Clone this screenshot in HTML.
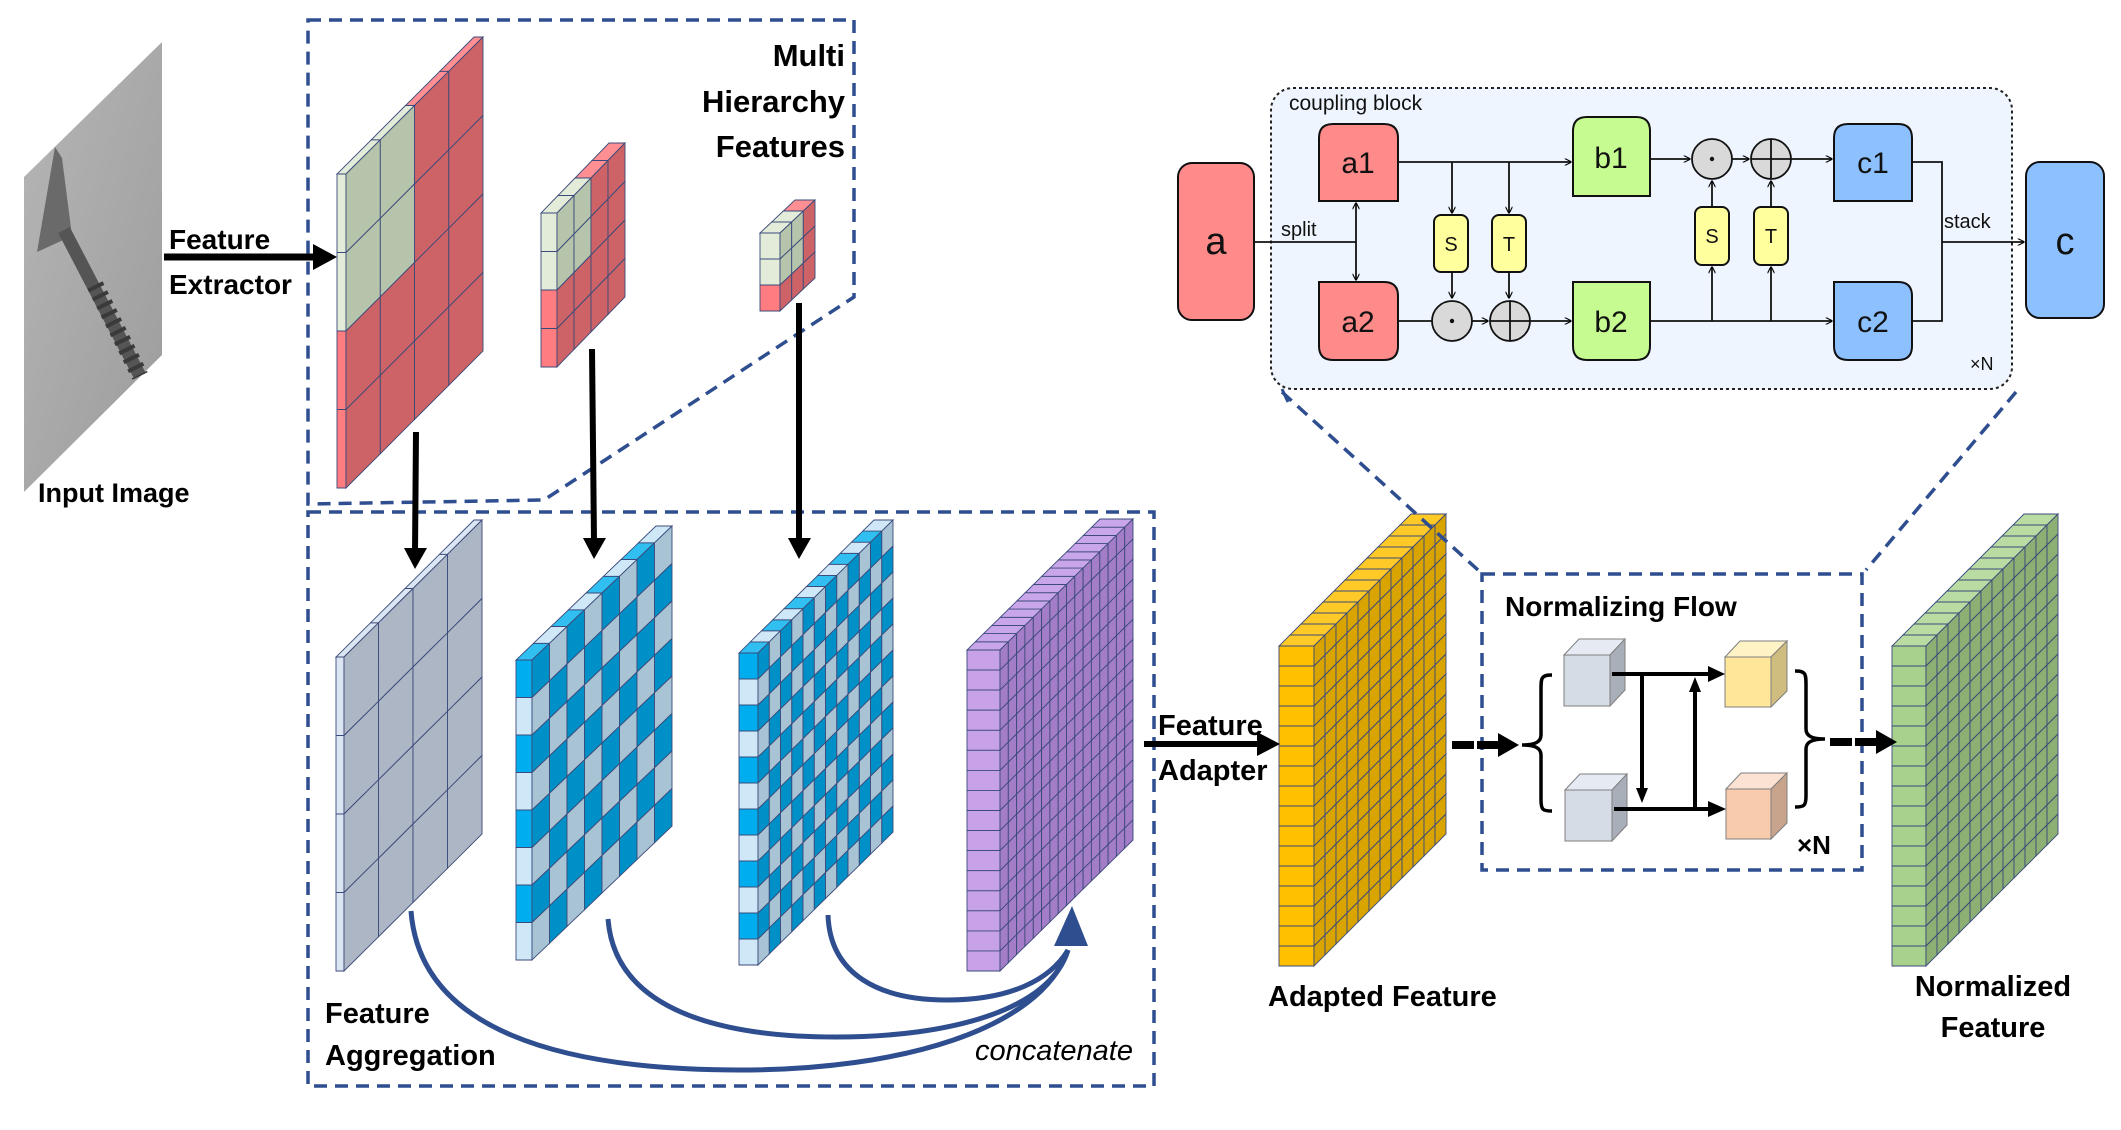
<!DOCTYPE html>
<html><head><meta charset="utf-8">
<style>
html,body{margin:0;padding:0;background:#fff;}
svg{display:block;}
text{font-family:"Liberation Sans",sans-serif;}
.b{font-weight:bold;fill:#000;}
</style></head>
<body>
<svg id="s" xmlns="http://www.w3.org/2000/svg" width="2121" height="1130" viewBox="0 0 2121 1130">
<defs>
<linearGradient id="ig" x1="0" y1="0" x2="1" y2="1">
<stop offset="0" stop-color="#b6b6b6"/><stop offset="1" stop-color="#9c9c9c"/>
</linearGradient>
<marker id="ah" viewBox="0 0 10 10" refX="9" refY="5" markerWidth="7" markerHeight="7" orient="auto-start-reverse" markerUnits="userSpaceOnUse"><path d="M0,0 L10,5 L0,10" fill="none" stroke="#000" stroke-width="1.6"/></marker>
</defs>

<!-- input image -->
<polygon points="24,177 162,42 162,355 24,492" fill="url(#ig)"/>
<polygon points="55,147 62,158 72,236 37,252" fill="#6a6a6a"/>
<line x1="64" y1="230" x2="140" y2="376" stroke="#555" stroke-width="13"/>
<line x1="95" y1="285" x2="140" y2="376" stroke="#3a3a3a" stroke-width="17" stroke-dasharray="4 6"/>
<text class="b" x="38" y="502" font-size="27">Input Image</text>

<!-- feature extractor arrow -->
<line x1="164" y1="257" x2="318" y2="257" stroke="#000" stroke-width="7"/>
<polygon points="313,244 337,257 313,270" fill="#000"/>
<text class="b" x="169" y="249" font-size="28">Feature</text>
<text class="b" x="169" y="294" font-size="28">Extractor</text>

<!-- dashed boxes -->
<path d="M308,20 L854,20 L854,297 L544,500 L308,504 Z" fill="none" stroke="#2f4e8f" stroke-width="3.5" stroke-dasharray="13 8"/>
<rect x="308" y="512" width="846" height="574" fill="none" stroke="#2f4e8f" stroke-width="3.5" stroke-dasharray="13 8"/>
<text class="b" x="845" y="66" font-size="31" text-anchor="end">Multi</text>
<text class="b" x="845" y="112" font-size="31" text-anchor="end">Hierarchy</text>
<text class="b" x="845" y="157" font-size="31" text-anchor="end">Features</text>

<g id="panels"></g>

<!-- down arrows -->
<g stroke="#000" stroke-width="6">
<line x1="416" y1="432" x2="415" y2="552"/>
<line x1="592" y1="349" x2="594" y2="541"/>
<line x1="799" y1="303" x2="799" y2="541"/>
</g>
<polygon points="404,548 427,548 415,569" fill="#000"/>
<polygon points="583,538 606,538 594,559" fill="#000"/>
<polygon points="788,538 811,538 799,559" fill="#000"/>

<!-- concat curves -->
<g fill="none" stroke="#2f4e8f" stroke-width="5">
<path d="M411,911 C420,1030 560,1070 740,1070 C900,1070 1040,1030 1068,950"/>
<path d="M608,919 C615,1010 720,1037 836,1037 C950,1037 1050,1010 1068,950"/>
<path d="M828,915 C830,975 880,1000 947,1000 C1010,1000 1050,980 1068,950"/>
</g>
<polygon points="1072,906 1054,946 1088,946" fill="#2f4e8f"/>
<text class="b" x="325" y="1023" font-size="29">Feature</text>
<text class="b" x="325" y="1065" font-size="29">Aggregation</text>
<text x="1133" y="1060" font-size="29" font-style="italic" text-anchor="end" fill="#000">concatenate</text>

<!-- feature adapter -->
<line x1="1144" y1="744" x2="1262" y2="744" stroke="#000" stroke-width="6"/>
<polygon points="1257,732 1280,744 1257,756" fill="#000"/>
<text class="b" x="1158" y="735" font-size="29">Feature</text>
<text class="b" x="1158" y="780" font-size="29">Adapter</text>
<text class="b" x="1268" y="1006" font-size="29">Adapted Feature</text>
<text class="b" x="1993" y="996" font-size="29" text-anchor="middle">Normalized</text>
<text class="b" x="1993" y="1037" font-size="29" text-anchor="middle">Feature</text>

<!-- NF box -->
<rect x="1482" y="574" width="380" height="296" fill="none" stroke="#2f4e8f" stroke-width="3.5" stroke-dasharray="13 8"/>
<line x1="1282" y1="392" x2="1478" y2="570" stroke="#2f4e8f" stroke-width="3.5" stroke-dasharray="13 8"/>
<line x1="2016" y1="392" x2="1866" y2="570" stroke="#2f4e8f" stroke-width="3.5" stroke-dasharray="13 8"/>
<text class="b" x="1505" y="616" font-size="28">Normalizing Flow</text>
<text class="b" x="1797" y="854" font-size="26">×N</text>
<!-- cubes -->
<g stroke="#7f7f7f" stroke-width="1">
<polygon points="1564,655 1579,639 1625,639 1610,655" fill="#e6ebf3"/>
<polygon points="1610,655 1625,639 1625,690 1610,706" fill="#a9afb9"/>
<rect x="1564" y="655" width="46" height="51" fill="#d6dce5"/>
<polygon points="1565,790 1580,774 1627,774 1612,790" fill="#e6ebf3"/>
<polygon points="1612,790 1627,774 1627,825 1612,841" fill="#a9afb9"/>
<rect x="1565" y="790" width="47" height="51" fill="#d6dce5"/>
<polygon points="1725,657 1740,641 1787,641 1771,657" fill="#fff2c4"/>
<polygon points="1771,657 1787,641 1787,691 1771,707" fill="#cfbd80"/>
<rect x="1725" y="657" width="46" height="50" fill="#ffe699"/>
<polygon points="1726,789 1741,773 1787,773 1771,789" fill="#fbe2d2"/>
<polygon points="1771,789 1787,773 1787,823 1771,839" fill="#c8a48c"/>
<rect x="1726" y="789" width="45" height="50" fill="#f8cbad"/>
</g>
<g stroke="#000" stroke-width="4">
<line x1="1612" y1="674" x2="1710" y2="674"/>
<line x1="1614" y1="809" x2="1710" y2="809"/>
<line x1="1642" y1="674" x2="1642" y2="790"/>
<line x1="1695" y1="808" x2="1695" y2="690"/>
</g>
<polygon points="1708,666 1725,674 1708,682" fill="#000"/>
<polygon points="1708,801 1726,809 1708,817" fill="#000"/>
<polygon points="1636,788 1648,788 1642,803" fill="#000"/>
<polygon points="1689,692 1701,692 1695,677" fill="#000"/>
<path d="M1552,675 C1541,675 1541,678 1541,690 L1541,735 C1541,742 1535,745 1522,745 C1535,745 1541,748 1541,755 L1541,800 C1541,810 1543,811 1552,811" fill="none" stroke="#000" stroke-width="3.5"/>
<path d="M1795,671 C1806,671 1806,674 1806,686 L1806,729 C1806,736 1812,739 1825,739 C1812,739 1806,742 1806,749 L1806,796 C1806,806 1804,807 1795,807" fill="none" stroke="#000" stroke-width="3.5"/>
<line x1="1452" y1="745" x2="1502" y2="745" stroke="#000" stroke-width="8" stroke-dasharray="22 3"/>
<polygon points="1498,733 1519,745 1498,757" fill="#000"/>
<line x1="1830" y1="742" x2="1880" y2="742" stroke="#000" stroke-width="8" stroke-dasharray="22 3"/>
<polygon points="1876,730 1897,742 1876,754" fill="#000"/>

<!-- coupling block -->
<rect x="1271" y="88" width="741" height="301" rx="22" fill="#eef5fe" stroke="#222" stroke-width="2" stroke-dasharray="3 3"/>
<line x1="1282" y1="389" x2="1288" y2="402" stroke="#2f4e8f" stroke-width="3"/>
<text x="1289" y="110" font-size="21" fill="#111">coupling block</text>
<text x="1970" y="370" font-size="18" fill="#111">×N</text>
<g stroke="#111" stroke-width="2">
<rect x="1178" y="163" width="76" height="157" rx="14" fill="#ff8a8a"/>
<path d="M1319,201 L1319,138 Q1319,124 1333,124 L1384,124 Q1398,124 1398,138 L1398,201 Z" fill="#ff8a8a"/>
<path d="M1319,282 L1384,282 Q1398,282 1398,296 L1398,346 Q1398,360 1384,360 L1333,360 Q1319,360 1319,346 Z" fill="#ff8a8a"/>
<path d="M1573,196 L1573,131 Q1573,117 1587,117 L1636,117 Q1650,117 1650,131 L1650,196 Z" fill="#c6fb92"/>
<path d="M1573,282 L1650,282 L1650,346 Q1650,360 1636,360 L1587,360 Q1573,360 1573,346 Z" fill="#c6fb92"/>
<path d="M1834,201 L1834,138 Q1834,124 1848,124 L1898,124 Q1912,124 1912,138 L1912,201 Z" fill="#8cc0ff"/>
<path d="M1834,282 L1898,282 Q1912,282 1912,296 L1912,346 Q1912,360 1898,360 L1848,360 Q1834,360 1834,346 Z" fill="#8cc0ff"/>
<rect x="2026" y="162" width="78" height="156" rx="14" fill="#8cc0ff"/>
<rect x="1434" y="215" width="34" height="57" rx="7" fill="#ffff9e"/>
<rect x="1492" y="215" width="34" height="57" rx="7" fill="#ffff9e"/>
<rect x="1695" y="207" width="34" height="58" rx="7" fill="#ffff9e"/>
<rect x="1754" y="207" width="34" height="58" rx="7" fill="#ffff9e"/>
</g>
<g stroke="#111" stroke-width="1.8" fill="none">
<line x1="1254" y1="242" x2="1356" y2="242"/>
<line x1="1356" y1="203" x2="1356" y2="280" marker-start="url(#ah)" marker-end="url(#ah)"/>
<line x1="1398" y1="162" x2="1571" y2="162" marker-end="url(#ah)"/>
<line x1="1452" y1="162" x2="1452" y2="213" marker-end="url(#ah)"/>
<line x1="1509" y1="162" x2="1509" y2="213" marker-end="url(#ah)"/>
<line x1="1452" y1="272" x2="1452" y2="298" marker-end="url(#ah)"/>
<line x1="1509" y1="272" x2="1509" y2="298" marker-end="url(#ah)"/>
<line x1="1398" y1="321" x2="1432" y2="321"/>
<line x1="1472" y1="321" x2="1488" y2="321" marker-end="url(#ah)"/>
<line x1="1530" y1="321" x2="1571" y2="321" marker-end="url(#ah)"/>
<line x1="1650" y1="159" x2="1690" y2="159" marker-end="url(#ah)"/>
<line x1="1732" y1="159" x2="1749" y2="159" marker-end="url(#ah)"/>
<line x1="1791" y1="159" x2="1832" y2="159" marker-end="url(#ah)"/>
<line x1="1650" y1="321" x2="1832" y2="321" marker-end="url(#ah)"/>
<line x1="1712" y1="321" x2="1712" y2="267" marker-end="url(#ah)"/>
<line x1="1771" y1="321" x2="1771" y2="267" marker-end="url(#ah)"/>
<line x1="1712" y1="207" x2="1712" y2="181" marker-end="url(#ah)"/>
<line x1="1771" y1="207" x2="1771" y2="181" marker-end="url(#ah)"/>
<polyline points="1912,162 1942,162 1942,321 1912,321"/>
<line x1="1942" y1="242" x2="2024" y2="242" marker-end="url(#ah)"/>
</g>
<g stroke="#111" stroke-width="1.8" fill="#d9d9d9">
<circle cx="1452" cy="321" r="20"/><circle cx="1510" cy="321" r="20"/>
<circle cx="1712" cy="159" r="20"/><circle cx="1771" cy="159" r="20"/>
</g>
<g stroke="#111" stroke-width="1.8">
<line x1="1490" y1="321" x2="1530" y2="321"/><line x1="1510" y1="301" x2="1510" y2="341"/>
<line x1="1751" y1="159" x2="1791" y2="159"/><line x1="1771" y1="139" x2="1771" y2="179"/>
</g>
<circle cx="1452" cy="321" r="2.2" fill="#111"/><circle cx="1712" cy="159" r="2.2" fill="#111"/>
<g font-size="30" fill="#111" text-anchor="middle">
<text x="1358" y="173">a1</text><text x="1358" y="332">a2</text>
<text x="1611" y="168">b1</text><text x="1611" y="332">b2</text>
<text x="1873" y="173">c1</text><text x="1873" y="332">c2</text>
<text x="1216" y="254" font-size="38">a</text><text x="2065" y="254" font-size="38">c</text>
</g>
<g font-size="20" fill="#111" text-anchor="middle">
<text x="1451" y="251">S</text><text x="1509" y="251">T</text>
<text x="1712" y="243">S</text><text x="1771" y="243">T</text>
</g>
<text x="1281" y="236" font-size="20" fill="#111">split</text>
<text x="1944" y="228" font-size="20" fill="#111">stack</text>
</svg>
<script>
(function(){
var g=document.getElementById('panels');var out='';
function poly(pts,f){out+='<polygon points="'+pts.map(function(p){return p[0].toFixed(1)+','+p[1].toFixed(1)}).join(' ')+'" fill="'+f+'" stroke="#3b4a7a" stroke-width="0.9"/>';}
function panel(x,y,fw,h,dx,dy,cols,rows,front,side,top){
 function P(c,r){return [x+fw+dx*c/cols, y-dy*c/cols+h*r/rows];}
 for(var c=0;c<cols;c++){var a=[x+dx*c/cols,y-dy*c/cols],b=[x+dx*(c+1)/cols,y-dy*(c+1)/cols];
  poly([a,[a[0]+fw,a[1]],[b[0]+fw,b[1]],b],top(c));}
 for(var r=0;r<rows;r++){poly([[x,y+h*r/rows],[x+fw,y+h*r/rows],[x+fw,y+h*(r+1)/rows],[x,y+h*(r+1)/rows]],front(r));}
 for(var c=0;c<cols;c++)for(var r=0;r<rows;r++){poly([P(c,r),P(c+1,r),P(c+1,r+1),P(c,r+1)],side(r,c));}
}
var GF='#e2ecd9',GS='#b6c4ac';
panel(337,174,9,314,137,137,4,4,function(r){return r<2?GF:'#ff7c80'},function(r,c){return (r<2&&c<2)?GS:'#cd6366'},function(c){return c<2?GF:'#ff8f92'});
panel(541,213,16,154,68,70,4,4,function(r){return r<2?GF:'#ff7c80'},function(r,c){return (r<2&&c<2)?GS:'#cd6366'},function(c){return c<2?GF:'#ff8f92'});
panel(760,233,20,78,35,33,3,3,function(r){return r<2?GF:'#ff7c80'},function(r,c){return (r<2&&c<2)?GS:'#cd6366'},function(c){return c<2?GF:'#ff8f92'});
panel(336,657,8,314,138,137,4,4,function(){return '#dce6f2'},function(){return '#adb6c4'},function(){return '#dce6f2'});
panel(516,660,16,300,140,134,8,8,function(r){return r%2?'#cfe8f8':'#00aeef'},function(r,c){return (r+c)%2?'#a7c3d4':'#0090c8'},function(c){return c%2?'#cfe8f8':'#30bff0'});
panel(739,653,19,312,135,133,12,12,function(r){return r%2?'#cfe8f8':'#00aeef'},function(r,c){return (r+c)%2?'#a7c3d4':'#0090c8'},function(c){return c%2?'#cfe8f8':'#30bff0'});
panel(967,650,33,321,133,131,16,16,function(){return '#c8a2e8'},function(){return '#a47dc9'},function(){return '#c9a6ea'});
panel(1279,646,35,320,132,132,12,16,function(){return '#ffc000'},function(){return '#d9a400'},function(){return '#ffca28'});
panel(1892,646,34,320,132,132,12,16,function(){return '#a9d18e'},function(){return '#8caf73'},function(){return '#b9dca2'});
g.innerHTML=out;
})();
</script>
</body></html>
